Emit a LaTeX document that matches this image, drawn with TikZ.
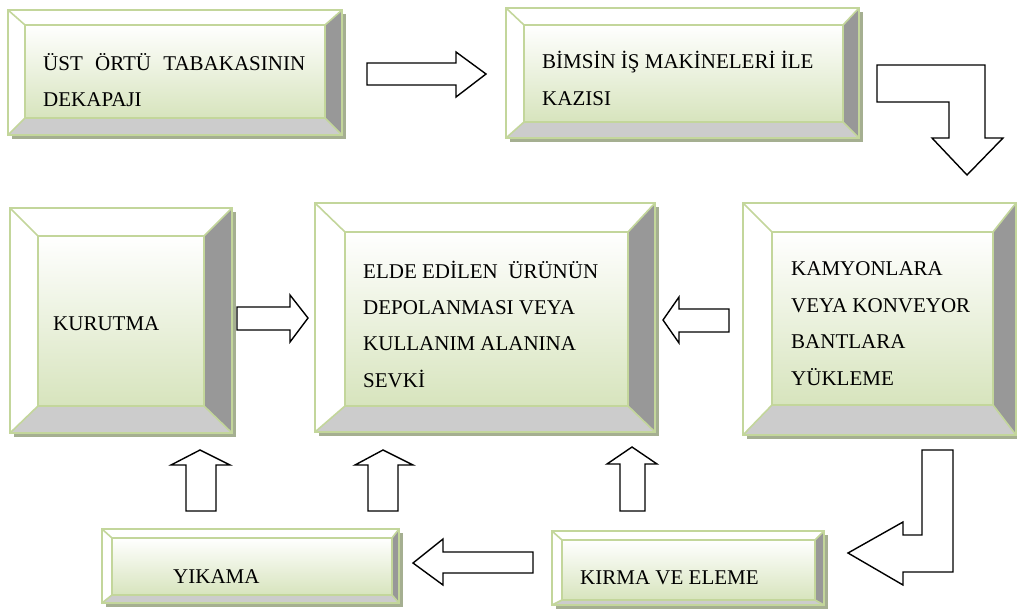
\documentclass[tikz,border=0pt]{standalone}
\usepackage{fontspec}
\setmainfont{Liberation Serif}
\usetikzlibrary{calc}

\definecolor{edgeg}{RGB}{195,214,155}
\definecolor{innerg}{RGB}{215,228,189}
\definecolor{bevR}{RGB}{152,152,152}
\definecolor{bevB}{RGB}{204,204,204}
\definecolor{shadowc}{RGB}{165,175,145}

\tikzset{
  boxtext/.style={anchor=base west, inner sep=0pt, font=\fontsize{21}{25}\selectfont},
  blockarrow/.style={draw=black, fill=white, line width=1.4pt, line join=miter},
  edgeline/.style={draw=edgeg, line width=1.6pt},
}

% bevelled box: name, outer x1,y1,x2,y2, bevel widths left,top,right,bottom
\newcommand\bevbox[9]{%
  \fill[shadowc] (#2+4,#3+4) rectangle (#4+4,#5+4);
  \fill[white] (#2,#3) rectangle (#4,#5);
  \fill[bevR] (#4,#3) -- (#4,#5) -- (#4-#8,#5-#9) -- (#4-#8,#3+#7) -- cycle;
  \fill[bevB] (#2,#5) -- (#4,#5) -- (#4-#8,#5-#9) -- (#2+#6,#5-#9) -- cycle;
  \shade[top color=white, bottom color=innerg] (#2+#6,#3+#7) rectangle (#4-#8,#5-#9);
  \draw[edgeline] (#2+#6,#3+#7) rectangle (#4-#8,#5-#9);
  \draw[edgeline] (#2,#3) -- (#2+#6,#3+#7);
  \draw[edgeline] (#4,#3) -- (#4-#8,#3+#7);
  \draw[edgeline] (#2,#5) -- (#2+#6,#5-#9);
  \draw[edgeline] (#4,#5) -- (#4-#8,#5-#9);
  \draw[edgeline] (#2,#3) rectangle (#4,#5);
  \coordinate (#1) at ({(#2+#4)/2},{(#3+#5)/2});
}

\begin{document}
\begin{tikzpicture}[x=1pt, y=-1pt]
\useasboundingbox (0,0) rectangle (1017,608);
\clip (0,0) rectangle (1017,608);

% process boxes
\bevbox{dekapaj}{8}{10}{342}{135}{17}{15}{17}{17}
\bevbox{kazi}{506}{8}{859}{138}{18}{17}{16}{16}
\bevbox{depo}{315}{203}{655}{432}{30}{29}{27}{26}
\bevbox{yukleme}{743}{203}{1016}{435}{29}{29}{23}{30}
\bevbox{kurutma}{10}{208}{232}{433}{28}{28}{28}{27}
\bevbox{yikama}{102}{529}{399}{603}{10}{9}{7}{8}
\bevbox{kirma}{552}{531}{824}{605}{10}{9}{9}{5}

% box labels
\node[boxtext] (t1a) at (43,70) {\makebox[262pt][s]{ÜST ÖRTÜ TABAKASININ}};
\node[boxtext] (t1b) at (43,106) {DEKAPAJI};
\node[boxtext] (t2a) at (542,68) {BİMSİN İŞ MAKİNELERİ İLE};
\node[boxtext] (t2b) at (542,105) {KAZISI};
\node[boxtext] (t3a) at (363,278) {\makebox[235pt][s]{ELDE EDİLEN\ \ ÜRÜNÜN}};
\node[boxtext] (t3b) at (363,314) {DEPOLANMASI VEYA};
\node[boxtext] (t3c) at (363,350) {KULLANIM ALANINA};
\node[boxtext] (t3d) at (363,387) {SEVKİ};
\node[boxtext] (t4a) at (791,275) {KAMYONLARA};
\node[boxtext] (t4b) at (791,312) {VEYA KONVEYOR};
\node[boxtext] (t4c) at (791,348) {BANTLARA};
\node[boxtext] (t4d) at (791,385) {YÜKLEME};
\node[boxtext] (t5a) at (53,330) {KURUTMA};
\node[boxtext] (t6a) at (173,583) {YIKAMA};
\node[boxtext] (t7a) at (580,584) {KIRMA VE ELEME};

% block arrows
\draw[blockarrow] (367,63) -- (456,63) -- (456,52) -- (486,74) -- (456,97) -- (456,85) -- (367,85) -- cycle;
\draw[blockarrow] (877,65) -- (985,65) -- (985,138) -- (1003,138) -- (967,175) -- (932,138) -- (949,138) -- (949,102) -- (877,102) -- cycle;
\draw[blockarrow] (729,309) -- (679,309) -- (679,297) -- (663,320) -- (679,343) -- (679,332) -- (729,332) -- cycle;
\draw[blockarrow] (237,307) -- (290,307) -- (290,295) -- (308,318) -- (290,342) -- (290,330) -- (237,330) -- cycle;
\draw[blockarrow] (922,450) -- (953,450) -- (953,572) -- (903,572) -- (903,585) -- (848,553) -- (903,522) -- (903,535) -- (922,535) -- cycle;
\draw[blockarrow] (533,552) -- (443,552) -- (443,539) -- (413,563) -- (443,585) -- (443,573) -- (533,573) -- cycle;
\draw[blockarrow] (186,511) -- (186,465) -- (171,465) -- (200,450) -- (230,465) -- (216,465) -- (216,511) -- cycle;
\draw[blockarrow] (368,511) -- (368,465) -- (355,465) -- (383,450) -- (413,465) -- (398,465) -- (398,511) -- cycle;
\draw[blockarrow] (620,511) -- (620,464) -- (607,464) -- (632,447) -- (657,464) -- (645,464) -- (645,511) -- cycle;
\end{tikzpicture}
\end{document}
